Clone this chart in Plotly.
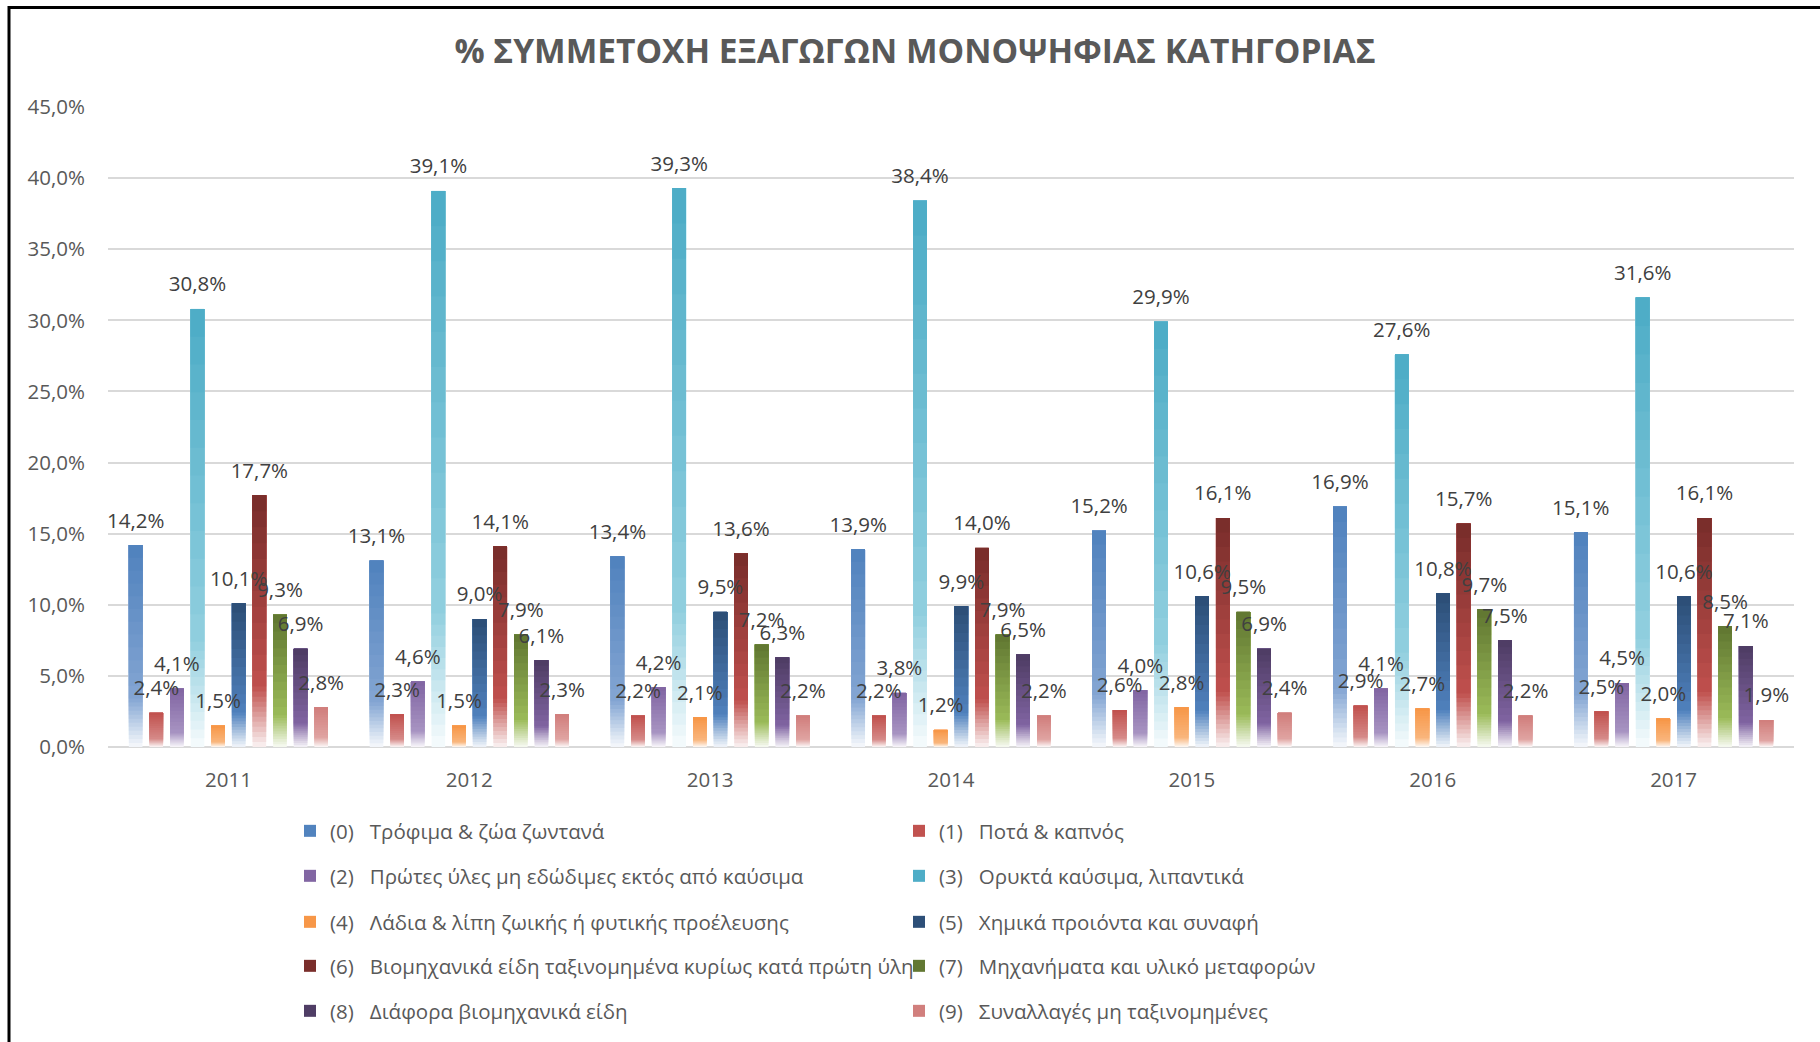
import plotly.graph_objects as go

# ---------------- data ----------------
years = ["2011", "2012", "2013", "2014", "2015", "2016", "2017"]

series_names = [
    "(0)\u00a0\u00a0 Τρόφιμα & ζώα ζωντανά",
    "(1)\u00a0\u00a0 Ποτά & καπνός",
    "(2)\u00a0\u00a0 Πρώτες ύλες μη εδώδιμες εκτός από καύσιμα",
    "(3)\u00a0\u00a0 Ορυκτά καύσιμα, λιπαντικά",
    "(4)\u00a0\u00a0 Λάδια & λίπη ζωικής ή φυτικής προέλευσης",
    "(5)\u00a0\u00a0 Χημικά προιόντα και συναφή",
    "(6)\u00a0\u00a0 Βιομηχανικά είδη ταξινομημένα κυρίως κατά πρώτη ύλη",
    "(7)\u00a0\u00a0 Μηχανήματα και υλικό μεταφορών",
    "(8)\u00a0\u00a0 Διάφορα βιομηχανικά είδη",
    "(9)\u00a0\u00a0 Συναλλαγές μη ταξινομημένες",
]

food = [14.2, 13.1, 13.4, 13.9, 15.2, 16.9, 15.1]
beverages = [2.4, 2.3, 2.2, 2.2, 2.6, 2.9, 2.5]
raw_materials = [4.1, 4.6, 4.2, 3.8, 4.0, 4.1, 4.5]
fuels = [30.8, 39.1, 39.3, 38.4, 29.9, 27.6, 31.6]
oils = [1.5, 1.5, 2.1, 1.2, 2.8, 2.7, 2.0]
chemicals = [10.1, 9.0, 9.5, 9.9, 10.6, 10.8, 10.6]
manufactured = [17.7, 14.1, 13.6, 14.0, 16.1, 15.7, 16.1]
machinery = [9.3, 7.9, 7.2, 7.9, 9.5, 9.7, 8.5]
misc_manufactured = [6.9, 6.1, 6.3, 6.5, 6.9, 7.5, 7.1]
not_classified = [2.8, 2.3, 2.2, 2.2, 2.4, 2.2, 1.9]

all_series = [food, beverages, raw_materials, fuels, oils, chemicals,
              manufactured, machinery, misc_manufactured, not_classified]

# ---------------- styles ----------------
top_colors = ["#4f81bd", "#c0504d", "#8064a2", "#4bacc6", "#f79646",
              "#2c4d75", "#772c2a", "#5f7530", "#4d3b62", "#d07d7b"]
mid_colors = ["#84a6d3", "#d68a88", "#a894c2", "#92cfdf", "#f9b57c",
              "#4f81bd", "#c0504d", "#9bbb59", "#8064a2", "#e0a4a2"]

FONT = "Open Sans"
W, H = 1820, 1042
ML, MR, MT, MB = 108, 26, 107, 295
PW, PH = W - ML - MR, H - MT - MB


def hex2rgb(h):
    h = h.lstrip("#")
    return [int(h[i:i + 2], 16) for i in (0, 2, 4)]


def mix(c1, c2, t):
    return [c1[i] + (c2[i] - c1[i]) * t for i in range(3)]


def css(c):
    return "rgb(%d,%d,%d)" % tuple(round(v) for v in c)


T0 = 0.24
N_LOW, N_HIGH = 12, 12
bounds = [T0 * k / N_LOW for k in range(N_LOW)] + \
         [T0 + (1 - T0) * k / N_HIGH for k in range(N_HIGH + 1)]


def grad_color(i, t):
    top = hex2rgb(top_colors[i])
    mid = hex2rgb(mid_colors[i])
    bot = mix(mid, [255, 255, 255], 0.93)
    if t >= T0:
        return css(mix(mid, top, (t - T0) / (1 - T0)))
    return css(mix(bot, mid, t / T0))


def px_x(X):
    return (X - ML) / PW


def px_y(Y):
    return (H - MB - Y) / PH


LABEL_PAD = 0.6  # axis units of empty space between bar top and its label

fig = go.Figure()
# gradient bars: each slice runs from its lower bound up to the bar top,
# drawn bottom-first so the next slice covers the rest (no seams)
for i, vals in enumerate(all_series):
    leg = "legend" if i == 0 else "legend%d" % (i + 1)
    nseg = len(bounds) - 1
    for k in range(nseg):
        f0, f1 = bounds[k], bounds[k + 1]
        tmid = (f0 + f1) / 2
        is_top = k == nseg - 1
        fig.add_trace(go.Bar(
            x=years,
            y=[v * (1 - f0) for v in vals],
            base=[v * f0 for v in vals],
            offsetgroup=str(i),
            name=series_names[i],
            legend=leg,
            showlegend=is_top,
            marker=dict(color=grad_color(i, tmid), line=dict(width=0)),
            hoverinfo="skip",
        ))

# data labels on top of everything
for i, vals in enumerate(all_series):
    fig.add_trace(go.Bar(
        x=years,
        y=[LABEL_PAD] * len(vals),
        base=vals,
        offsetgroup=str(i),
        showlegend=False,
        marker=dict(color="rgba(0,0,0,0)", line=dict(width=0)),
        text=[("%.1f" % v).replace(".", ",") + "%" for v in vals],
        textposition="outside",
        textangle=0,
        constraintext="none",
        cliponaxis=False,
        textfont=dict(family=FONT, size=20.5, color="#404040"),
        hoverinfo="skip",
    ))

# legends: 2 columns x 5 rows
col_x = [px_x(290), px_x(899)]
row_y = [px_y(Y) for Y in (831, 876, 922, 966, 1011)]
legend_layout = {}
for i in range(10):
    key = "legend" if i == 0 else "legend%d" % (i + 1)
    legend_layout[key] = dict(
        x=col_x[i % 2], y=row_y[i // 2], xanchor="left", yanchor="middle",
        xref="paper", yref="paper", bgcolor="rgba(0,0,0,0)", borderwidth=0,
        font=dict(family=FONT, size=20.5, color="#595959"),
    )

fig.update_layout(
    width=W, height=H,
    margin=dict(l=ML, r=MR, t=MT, b=MB, autoexpand=False),
    paper_bgcolor="white", plot_bgcolor="white",
    barmode="group", bargap=0.144, bargroupgap=0.34,
    separators=",.",
    title=dict(
        text="<b>% ΣΥΜΜΕΤΟΧΗ ΕΞΑΓΩΓΩΝ ΜΟΝΟΨΗΦΙΑΣ ΚΑΤΗΓΟΡΙΑΣ</b>",
        x=915 / W, xref="container", xanchor="center",
        y=1 - 51 / H, yref="container", yanchor="middle",
        font=dict(family=FONT, size=33.5, color="#595959"),
    ),
    xaxis=dict(
        type="category", showgrid=False, showline=False, zeroline=False,
        ticks="outside", ticklen=14, tickcolor="rgba(0,0,0,0)",
        tickfont=dict(family=FONT, size=20.5, color="#595959"),
    ),
    yaxis=dict(
        range=[0, 45], dtick=5, tick0=0, tickformat=".1f", ticksuffix="%",
        showgrid=True, gridcolor="#d9d9d9", gridwidth=2,
        zeroline=True, zerolinecolor="#d9d9d9", zerolinewidth=2,
        showline=False, ticks="outside", ticklen=18,
        tickcolor="rgba(0,0,0,0)",
        tickfont=dict(family=FONT, size=20.5, color="#595959"),
    ),
    shapes=[
        dict(type="line", xref="paper", yref="paper",
             x0=px_x(9), x1=px_x(9), y0=px_y(6), y1=px_y(H + 5),
             line=dict(color="black", width=3)),
        dict(type="line", xref="paper", yref="paper",
             x0=px_x(8), x1=px_x(W + 5), y0=px_y(7.5), y1=px_y(7.5),
             line=dict(color="black", width=3)),
    ],
    **legend_layout,
)

fig.write_html(
    "out.html",
    config={"displayModeBar": False},
    post_script="document.body.style.margin='0';document.body.style.overflow='hidden';",
)
